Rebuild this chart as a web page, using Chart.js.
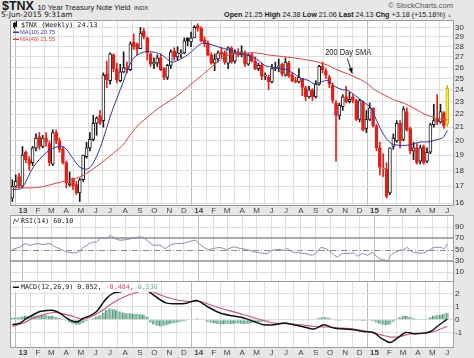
<!DOCTYPE html>
<html><head><meta charset="utf-8">
<script src="https://cdn.jsdelivr.net/npm/chart.js@4.4.0/dist/chart.umd.min.js"></script>
<style>
html,body{margin:0;padding:0;width:474px;height:358px;overflow:hidden;background:#e7e7e7;font-family:'Liberation Sans',Arial,sans-serif}
canvas{position:absolute;left:0;top:0}
.t{position:absolute;white-space:nowrap;color:#1a1a1a}
</style></head><body>
<div class="t" style="left:2px;top:-1px;font-size:12.5px;line-height:14px"><b>$TNX</b> <span style="font-size:7.5px">10 Year Treasury Note Yield</span> <span style="font-size:6px">INDX</span></div>
<div class="t" style="left:1px;top:11px;font-size:7.4px;line-height:8px;font-family:'DejaVu Sans'">5-Jun-2015 9:31am</div>
<div class="t" style="right:22px;top:11px;font-size:7.2px;line-height:8px"><b>Open</b> 21.25 <b>High</b> 24.38 <b>Low</b> 21.06 <b>Last</b> 24.13 <b>Chg</b> +3.18 (+15.18%) <span style="color:#9a9a9a;font-size:5px">▲</span></div>
<div class="t" style="right:21px;top:2px;font-size:7.5px;line-height:8px;color:#555">© StockCharts.com</div>
<canvas id="cMain" width="474" height="358"></canvas>
<canvas id="cRsi" width="474" height="358"></canvas>
<canvas id="cMacd" width="474" height="358"></canvas>
<script>
// ---------- data ----------
const monthLabels = ['13','F','M','A','M','J','J','A','S','O','N','D','14','F','M','A','M','J','J','A','S','O','N','D','15','F','M','A','M','J'];
const yTicksMain = [16,17,18,19,20,21,22,23,24,25,26,27,28,29,30];
const yTicksRsi = [10,30,50,70,90];
const yTicksMacd = [-1,0,1,2];

const opens = [16.3,17.0,17.6,17.0,19.2,18.7,18.5,19.5,20.3,19.6, 20.2,19.8,18.4,20.6,20.0,19.4,18.5,17.1,17.5,17.1, 16.6,17.4,18.9,19.5,20.1,21.3,21.9,21.5,25.4,24.8, 27.2,25.9,24.8,25.6,26.0,25.8,28.5,28.3,27.8,29.6, 28.9,27.3,26.3,26.4,26.9,25.9,25.1,26.2,27.6,27.0, 27.3,27.4,28.9,28.5,28.9,30.2,29.9,28.7,28.4,27.2, 26.4,26.8,27.5,27.4,26.4,27.9,26.6,27.4,27.2,27.4, 26.3,27.2,26.6,25.9,26.2,25.2,25.1,24.7,25.9,26.0, 26.3,25.3,26.4,25.3,24.8,24.7,25.0,24.2,23.4,24.0, 23.4,24.5,26.1,25.7,25.1,24.4,22.9,21.9,22.6,23.4, 23.0,23.4,23.1,21.6,23.0,20.9,21.6,22.5,21.1,19.5, 18.1,18.1,16.6,19.6,20.0,21.3,20.1,22.2,20.9,19.3, 19.5,18.6,19.6,18.6,19.2,21.2,21.7,21.4,22.1,21.25];
const highs = [17.4,17.7,17.8,19.6,19.3,18.9,19.6,20.5,20.6,20.4, 20.6,20.0,20.8,20.8,20.2,19.6,18.6,17.9,17.5,17.3, 17.5,19.0,19.9,20.6,21.9,21.8,22.3,25.5,26.6,27.4, 27.3,26.4,26.3,27.5,26.5,28.5,29.3,28.4,30.0,29.9, 29.0,27.4,26.9,27.2,27.3,26.0,26.3,27.7,27.9,28.0, 27.7,28.9,28.9,29.5,30.2,30.4,30.1,29.0,28.6,27.4, 27.3,27.6,27.9,27.6,28.0,28.0,27.7,27.8,28.1,27.6, 27.3,27.4,27.0,26.4,26.4,25.5,25.3,26.3,26.5,26.8, 26.4,26.9,26.6,25.5,25.1,25.9,25.0,24.3,24.3,24.1, 24.8,26.2,26.5,25.9,25.3,24.6,23.1,22.9,23.6,24.3, 23.8,23.6,23.2,23.2,23.1,22.3,22.9,22.5,21.2,19.9, 19.1,18.5,19.5,20.5,21.5,21.5,22.6,22.5,21.0,19.9, 19.8,19.7,19.7,19.5,21.3,22.8,23.6,22.8,22.2,24.38];
const lows = [16.1,16.9,16.9,16.9,18.5,18.0,18.3,19.3,19.4,19.5, 19.6,18.3,18.3,19.8,19.2,18.4,16.9,17.0,16.8,16.5, 16.1,17.3,18.8,19.3,20.0,20.4,21.2,21.0,24.2,24.5, 25.6,24.6,24.7,25.5,25.5,25.7,27.7,27.2,27.8,28.8, 26.7,26.1,25.9,26.1,25.7,24.9,24.9,25.9,26.7,26.7, 26.9,27.3,28.1,28.0,28.9,29.6,28.5,28.0,27.1,26.3, 25.7,26.5,26.9,26.3,25.9,26.4,26.4,27.0,27.0,26.1, 26.2,26.5,25.8,25.7,24.9,24.9,24.0,24.6,25.7,25.6, 25.2,25.2,25.1,24.7,24.6,24.6,23.5,23.1,23.3,23.1, 23.3,24.4,25.5,25.0,24.2,22.9,18.6,21.6,22.3,22.9, 22.9,22.9,21.5,21.4,20.7,20.6,21.5,21.0,19.3,17.7, 17.6,16.3,16.5,19.4,19.9,19.5,20.0,20.7,19.1,18.7, 18.4,18.4,18.4,18.5,19.1,21.0,21.2,21.3,20.9,21.06];
const closes = [17.0,17.3,17.0,19.0,18.7,18.4,19.5,20.2,19.6,20.2, 19.9,18.5,20.6,20.0,19.4,18.5,17.2,17.2,17.0,16.6, 17.4,19.0,19.5,20.1,21.3,21.7,21.3,25.3,24.9,27.3, 25.9,24.9,25.6,26.0,25.8,28.3,28.0,27.8,29.4,29.0, 27.4,26.3,26.5,26.9,25.8,25.1,26.2,27.5,27.0,27.4, 27.4,28.6,28.6,28.9,30.0,29.9,28.6,28.3,27.2,26.4, 26.8,27.4,27.3,26.5,27.9,26.5,27.4,27.2,27.5,26.3, 27.2,26.6,25.9,26.2,25.2,25.3,24.7,25.9,26.0,26.1, 25.4,26.5,25.2,24.8,24.7,25.1,24.2,23.4,24.0,23.4, 24.5,26.1,25.8,25.3,24.5,23.1,21.9,22.7,23.4,23.0, 23.2,23.1,21.6,23.1,20.8,21.6,22.5,21.1,19.5,18.2, 18.1,16.4,19.5,20.2,21.3,20.0,22.4,20.8,19.3,19.5, 18.5,19.5,18.5,19.2,21.2,21.5,21.4,22.2,21.1,24.13];

// [week index, value]
const ma10 = [[0,16.8],[2.8,16.9],[6.2,18.2],[10.2,19.2],[13.6,19.6],[15.6,19.5],[17.6,18.9],[20.1,18.2],[22.5,18.1],[24.5,18.7],[26.5,19.8],[29,21.8],[31.3,23.5],[32.8,24.6],[34.3,25.9],[36.3,27.0],[39.3,27.5],[41.2,27.5],[43.7,27.3],[45.7,26.85],[47.2,26.5],[48.6,26.6],[51.1,27.0],[53.1,27.5],[56,28.3],[58,28.3],[61,28.0],[64,27.7],[67.9,27.34],[70.9,27.0],[72.9,26.69],[74.8,26.2],[76.8,26.06],[78.8,25.9],[81.3,25.8],[83.7,25.4],[85.7,25.0],[87.7,24.84],[89.7,24.5],[91.6,24.7],[93.6,24.8],[95.6,24.3],[98.1,24.0],[99.5,23.97],[101.5,23.55],[103.5,23.13],[105.5,22.72],[106.5,22.45],[108,21.53],[109.4,20.78],[110.9,20.17],[112.4,19.81],[114.4,19.69],[117.3,19.69],[119.3,19.81],[121.3,19.92],[123.3,19.92],[125.3,20.05],[127.2,20.17],[128,20.3],[129,20.75]];
const ma40 = [[0,16.95],[4.7,16.9],[8.6,16.96],[12.6,17.17],[16.5,17.37],[20,17.58],[23.4,18.0],[27.4,18.66],[30.4,19.22],[32.8,19.7],[34.3,20.2],[37.3,21.15],[40.2,21.79],[43.2,22.45],[46.2,22.99],[49.1,23.55],[52.1,24.26],[55.1,25.0],[58,25.75],[61,26.53],[64,27.17],[67.9,27.34],[71.9,27.4],[75.8,27.2],[79.8,27.05],[83.7,26.9],[87.7,26.7],[90.6,26.5],[93.6,26.2],[96.6,25.75],[99.5,25.4],[104.5,24.7],[107.5,24.0],[110.4,23.55],[113.4,23.13],[116.4,22.85],[119.3,22.45],[122.3,22.0],[124.3,21.8],[126.2,21.65],[129,21.55]];
const rsi = [[0,50.0],[2.3,54.6],[3.8,60.6],[5.2,57.6],[7.2,60.6],[9.2,58.9],[11.2,60.6],[12.7,54.6],[14.6,50.0],[16.1,45.7],[18.1,44.0],[19.6,45.7],[21.1,53.6],[23.5,62.4],[25,63.5],[26.5,71.3],[28,69.6],[29,74.9],[30.5,69.6],[31.9,66.5],[33.9,67.8],[35.4,69.6],[36.9,71.3],[38.4,72.4],[39.9,66.5],[41.8,57.6],[43.8,57.6],[45.3,51.8],[46.8,57.6],[48.3,60.6],[50.2,60.6],[52.2,63.5],[54.2,66.5],[55.2,61.7],[56.6,54.6],[58.1,50.0],[59.6,51.8],[61.6,53.6],[63.6,50.0],[65.5,54.6],[67.7,51.8],[69.7,50.0],[71.7,45.7],[73.7,44.0],[75.6,42.9],[77.1,48.8],[79.1,50.0],[80.6,48.8],[81.6,51.8],[83,45.7],[85,44.0],[87,42.9],[89,39.9],[90.5,45.7],[91.5,53.6],[93.4,50.0],[94.9,42.9],[96.4,36.8],[97.9,42.9],[99.9,42.9],[101.3,44.0],[102.3,38.1],[103.8,42.9],[105.3,39.9],[106.8,44.0],[108.2,36.8],[109.3,32.2],[110.7,31.0],[111.4,28.0],[112.2,39.9],[113.7,45.7],[115.2,48.8],[116.2,50.0],[117.1,53.6],[118.6,45.7],[120.1,44.0],[122.1,44.0],[123.6,48.8],[125.1,53.6],[127.1,53.6],[128.2,51.8],[129,60.1]];
const macd = [[0,-0.38],[2.3,-0.25],[4.3,0.13],[6.2,0.38],[8.2,0.63],[10.2,0.70],[12.2,0.70],[14.1,0.51],[16.1,0.13],[18.1,-0.13],[19.6,-0.13],[21.1,0.13],[23,0.30],[25,0.63],[26.5,1.14],[28,1.64],[30,2.02],[32.4,2.14],[34.9,2.27],[36.9,2.42],[38.4,2.4],[39.9,2.22],[41.8,1.89],[43.8,1.52],[45.8,1.26],[48.8,1.21],[51.7,1.26],[54.7,1.46],[56.6,1.21],[58.6,0.89],[61.6,0.51],[64.6,0.32],[66.5,0.25],[68.7,0.13],[71.7,-0.13],[74.6,-0.38],[77.6,-0.38],[80.6,-0.25],[83.5,-0.38],[86.5,-0.55],[89.5,-0.70],[92.4,-0.38],[95.4,-0.63],[98.4,-0.70],[101.3,-0.76],[104.3,-0.89],[107.3,-0.98],[109.3,-1.39],[111.2,-1.64],[112.2,-1.72],[114.2,-1.39],[116.7,-0.96],[119.1,-1.06],[122.1,-1.01],[124.1,-0.89],[126,-0.51],[128,-0.13],[129,0.052]];
const signal = [[0,-0.51],[3.3,-0.25],[6.2,0.13],[9.2,0.38],[12.2,0.55],[15.1,0.45],[18.1,0.25],[21.1,0.05],[24,0.30],[27,0.76],[30,1.31],[33.9,1.82],[37.9,2.14],[40.3,2.22],[43.8,1.89],[47.7,1.57],[51.7,1.39],[55.7,1.39],[58.6,1.14],[62.6,0.81],[65.7,0.6],[69.7,0.30],[73.7,0.0],[77.6,-0.25],[81.6,-0.30],[85.5,-0.38],[89.5,-0.51],[93.4,-0.55],[97.4,-0.63],[101.3,-0.70],[105.3,-0.89],[109.3,-1.14],[112.2,-1.31],[115.2,-1.26],[118.1,-1.06],[122.1,-1.01],[125.1,-0.89],[129,-0.484]];
const hist = [0.15,0.18,0.2, 0.25,0.3,0.28,0.3,0.32, 0.35,0.38,0.35,0.3, 0.3,0.22,0.12, 0.02,-0.08, -0.2,-0.3,-0.38,-0.35, -0.25,-0.12,-0.02, 0.12,0.25,0.35, 0.55,0.75,0.85, 0.8,0.72,0.62, 0.55,0.5,0.5,0.45,0.45,0.42,0.38,0.25, -0.2,-0.35,-0.45,-0.5,-0.45,-0.4, -0.3,-0.25,-0.2,-0.15,-0.12,-0.05, 0.0,0.05,0.1,0.05, -0.05,-0.15,-0.22,-0.28,-0.32,-0.35,-0.33,-0.3,-0.32,-0.3,-0.28, -0.3,-0.32,-0.3,-0.25,-0.2,-0.18,-0.15,-0.1,-0.08,-0.05, -0.02,0.02,-0.03,0.05,0.03,-0.02,-0.05,-0.03,-0.06,-0.05,-0.02,0.0,0.05, 0.15,0.2,0.2,0.15, 0.05,-0.05,-0.08,-0.05,-0.04,-0.06,-0.05,-0.08,-0.05,-0.1,-0.08,-0.06,-0.1, -0.2,-0.3,-0.38,-0.42,-0.35, -0.15,0.05,0.2, 0.3,0.28,0.22,0.12, 0.08,0.05,0.05,0.08, 0.2,0.3,0.35,0.38,0.45,0.536];

// ---------- helpers ----------
const FIRST_WEEK = Date.UTC(2012, 11, 10);
const monthPos = monthLabels.map((_, k) => (Date.UTC(2013, k, 1) - FIRST_WEEK) / (7 * 864e5));
const RED = '#e0201a', BLACK = '#1a1a1a';
const last = closes.length - 1;
const pts = arr => arr.map(p => ({x: p[0], y: p[1]}));
function candleColor(i) {
  const prev = i > 0 ? closes[i - 1] : opens[i];
  return closes[i] < prev ? RED : BLACK;
}
const LBL = 'Liberation Sans';
const MONO = '6.7px "DejaVu Sans Mono"';

function xAxis(showLabels, h) {
  return {
    type: 'linear', min: -0.4, max: 130.7, offset: false, bounds: 'data',
    afterBuildTicks: s => { s.ticks = monthPos.map(v => ({value: v})); },
    afterFit: s => { s.height = h; },
    grid: {color: c => (c.index % 12 === 0 ? '#bdbdbd' : '#dedede'), drawTicks: false, lineWidth: 1},
    border: {display: false},
    ticks: {display: showLabels, autoSkip: false, maxRotation: 0, padding: 1, color: '#444',
      font: c => ({family: LBL, size: 8, weight: c.index % 12 === 0 ? 'bold' : 'normal'}),
      callback: (v, i) => monthLabels[i]}
  };
}
function yAxis(type, min, max, tickArr, extraGrid) {
  return {
    type, position: 'right', min, max, bounds: 'data',
    afterBuildTicks: s => { s.ticks = tickArr.map(v => ({value: v})); },
    afterFit: s => { s.width = 21; },
    grid: Object.assign({color: '#dedede', drawTicks: false}, extraGrid || {}),
    border: {display: false},
    ticks: {padding: 2, color: '#333', font: {family: LBL, size: 8}, callback: v => String(v)}
  };
}
const panel = {
  id: 'panel',
  beforeDraw(c) {
    const a = c.chartArea, x = c.ctx;
    x.save(); x.fillStyle = '#ffffff';
    x.fillRect(a.left, a.top, a.right - a.left, a.bottom - a.top); x.restore();
  },
  afterDraw(c) {
    const a = c.chartArea, x = c.ctx;
    x.save(); x.strokeStyle = '#9c9c9c'; x.lineWidth = 1;
    x.strokeRect(a.left - 0.5, a.top - 0.5, a.right - a.left + 1, a.bottom - a.top + 1); x.restore();
  }
};
const baseOpts = {responsive: false, animation: false, devicePixelRatio: 1,
  plugins: {legend: {display: false}, tooltip: {enabled: false}}};

// ---------- main price panel ----------
const mainLegend = {
  id: 'mainLegend',
  afterDatasetsDraw(c) {
    const x = c.ctx, xs = c.scales.x, ys = c.scales.y;
    x.save();
    // candle glyph
    x.fillStyle = '#111'; x.fillRect(14, 22, 1, 7); x.fillRect(16, 21, 1, 6); x.fillRect(13, 23, 3, 4);
    x.textBaseline = 'middle'; x.textAlign = 'left';
    x.font = MONO; x.fillStyle = '#111';
    x.fillText('$TNX (Weekly) 24.13', 21, 25.5);
    x.font = '5.8px "Liberation Sans"';
    x.fillStyle = '#34349c'; x.fillRect(13, 31.5, 6, 1.5); x.fillText('MA(10) 20.75', 20, 32.5);
    x.fillStyle = '#d84444'; x.fillRect(13, 38.5, 6, 1.5); x.fillText('MA(40) 21.55', 20, 39.5);
    // "200 Day SMA" annotation
    const tx = xs.getPixelForValue(99.6), ty = ys.getPixelForValue(27.45);
    x.font = '9.5px "Liberation Sans"'; x.fillStyle = '#222';
    const w = x.measureText('200 Day SMA').width, sx = 46 / w;
    x.save(); x.translate(tx, ty); x.scale(sx, 1); x.textAlign = 'center'; x.fillText('200 Day SMA', 0, 0); x.restore();
    const ax0 = xs.getPixelForValue(99.35), ay0 = ys.getPixelForValue(26.85);
    const ax1 = xs.getPixelForValue(100.8), ay1 = ys.getPixelForValue(25.45);
    x.strokeStyle = '#222'; x.lineWidth = 1;
    x.beginPath(); x.moveTo(ax0, ay0); x.lineTo(ax1, ay1); x.stroke();
    const ang = Math.atan2(ay1 - ay0, ax1 - ax0);
    x.beginPath(); x.moveTo(ax1, ay1);
    x.lineTo(ax1 - 6 * Math.cos(ang - 0.4), ay1 - 6 * Math.sin(ang - 0.4));
    x.lineTo(ax1 - 6 * Math.cos(ang + 0.4), ay1 - 6 * Math.sin(ang + 0.4));
    x.closePath(); x.fillStyle = '#111'; x.fill();
    x.restore();
  }
};

new Chart(document.getElementById('cMain'), {
  type: 'bar',
  data: {datasets: [
    {type: 'line', data: pts(ma10), borderColor: '#34349c', borderWidth: 1, pointRadius: 0, tension: 0.35, order: 0},
    {type: 'line', data: pts(ma40), borderColor: '#d84444', borderWidth: 1, pointRadius: 0, tension: 0.35, order: 0},
    {data: opens.map((o, i) => ({x: i, y: [Math.min(o, closes[i]), Math.max(o, closes[i])]})),
      backgroundColor: opens.map((o, i) => i === last ? '#f6ec3a' : (closes[i] >= o ? '#ffffff' : candleColor(i))),
      borderColor: opens.map((o, i) => i === last ? '#c9b800' : candleColor(i)),
      borderWidth: 1, borderSkipped: false, barThickness: 3, minBarLength: 1, grouped: false, order: 1},
    {data: highs.map((h, i) => ({x: i, y: [lows[i], h]})),
      backgroundColor: highs.map((h, i) => i === last ? '#c9b800' : candleColor(i)),
      borderWidth: 0, barThickness: 1, grouped: false, order: 2}
  ]},
  options: Object.assign({}, baseOpts, {
    layout: {padding: {left: 11, top: 21, right: 0, bottom: 142}},
    scales: {x: xAxis(true, 11), y: yAxis('logarithmic', 15.9, 30.7, yTicksMain)}
  }),
  plugins: [panel, mainLegend]
});

// ---------- RSI panel ----------
const rsiDeco = {
  id: 'rsiDeco',
  beforeDatasetsDraw(c) {
    const x = c.ctx, a = c.chartArea, y = Math.round(c.scales.y.getPixelForValue(50)) + 0.5;
    x.save(); x.strokeStyle = '#8a8a8a'; x.lineWidth = 1; x.setLineDash([6, 2, 1, 2]);
    x.beginPath(); x.moveTo(a.left, y); x.lineTo(a.right, y); x.stroke(); x.restore();
  },
  afterDatasetsDraw(c) {
    const x = c.ctx; x.save();
    x.strokeStyle = '#5a6a88'; x.lineWidth = 1;
    x.beginPath(); x.moveTo(13, 224); x.lineTo(15, 219); x.lineTo(17, 222); x.lineTo(19, 218); x.stroke();
    x.font = MONO; x.fillStyle = '#111'; x.textBaseline = 'middle';
    x.fillText('RSI(14) 60.10', 21, 221.5);
    x.restore();
  }
};
new Chart(document.getElementById('cRsi'), {
  type: 'line',
  data: {datasets: [{data: pts(rsi), borderColor: '#7d8ba3', borderWidth: 1, pointRadius: 0, tension: 0.2}]},
  options: Object.assign({}, baseOpts, {
    layout: {padding: {left: 11, top: 216, right: 0, bottom: 77}},
    scales: {x: xAxis(false, 0), y: yAxis('linear', -6, 109.6, yTicksRsi, {
      color: c => (c.tick.value === 70 || c.tick.value === 30) ? '#a9a9a9' : (c.tick.value === 50 ? 'rgba(0,0,0,0)' : '#dedede'),
      lineWidth: c => (c.tick.value === 70 || c.tick.value === 30) ? 2 : 1})}
  }),
  plugins: [panel, rsiDeco]
});

// ---------- MACD panel ----------
const macdLegend = {
  id: 'macdLegend',
  afterDatasetsDraw(c) {
    const x = c.ctx; x.save();
    x.font = MONO; x.textBaseline = 'middle';
    const parts = [['MACD(12,26,9) 0.052, ', '#111'], ['-0.484, ', '#d2456b'], ['0.536', '#6aa88a']];
    let w = 0; parts.forEach(p => { w += x.measureText(p[0]).width; });
    x.fillStyle = 'rgba(255,255,255,0.92)'; x.fillRect(12, 283, w + 11, 9);
    x.fillStyle = '#111'; x.fillRect(13, 286.5, 6, 1.5);
    let px = 21;
    parts.forEach(p => { x.fillStyle = p[1]; x.fillText(p[0], px, 287.5); px += x.measureText(p[0]).width; });
    x.restore();
  }
};
new Chart(document.getElementById('cMacd'), {
  type: 'bar',
  data: {datasets: [
    {type: 'line', data: pts(macd), borderColor: '#111111', borderWidth: 1.5, pointRadius: 0, tension: 0.3, order: 0},
    {type: 'line', data: pts(signal), borderColor: '#c8587c', borderWidth: 1.1, pointRadius: 0, tension: 0.3, order: 1},
    {data: hist.map((v, i) => ({x: i, y: v})), backgroundColor: '#92c4ae', borderColor: '#4f8c72',
      borderWidth: {left: 1, right: 0, top: 0, bottom: 0}, borderSkipped: false, barThickness: 3, grouped: false, order: 2}
  ]},
  options: Object.assign({}, baseOpts, {
    layout: {padding: {left: 11, top: 282, right: 0, bottom: 0}},
    scales: {x: xAxis(true, 11), y: yAxis('linear', -2.06, 2.86, yTicksMacd)}
  }),
  plugins: [panel, macdLegend]
});
</script>
</body></html>
